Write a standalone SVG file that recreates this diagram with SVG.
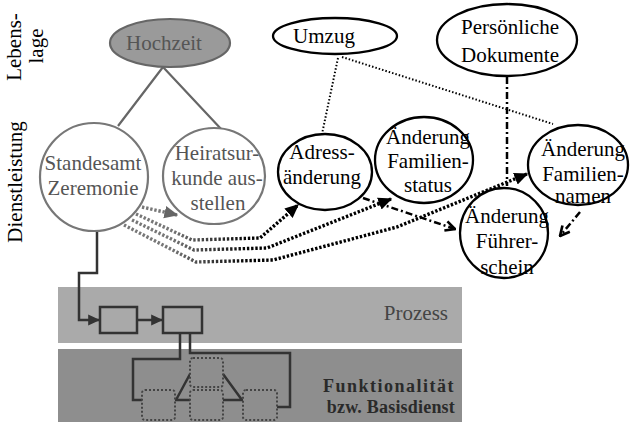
<svg xmlns="http://www.w3.org/2000/svg" width="630" height="424" viewBox="0 0 630 424" font-family="'Liberation Serif', 'DejaVu Serif', serif">
<style>
text{font-size:21px;text-anchor:middle;fill:#000}
.g text,.gt{fill:#555}
.node{fill:#fff;stroke:#000;stroke-width:2.3}
.gnode{fill:#fff;stroke:#777;stroke-width:2.2}
.fine{fill:none;stroke:#000;stroke-width:2;stroke-dasharray:1.5,2}
.dots{fill:none;stroke-width:3.4;stroke-dasharray:2.4,1.8}
.dashdot{fill:none;stroke:#000;stroke-width:2.5;stroke-dasharray:7,3,2,3}
.proc{fill:#a9a9a9;stroke:#333;stroke-width:2.5}
.flow{fill:none;stroke:#333;stroke-width:2.5}
.fbox{fill:#8e8e8e;stroke:#444;stroke-width:2;stroke-dasharray:2,2}
.fl{text-anchor:end;font-weight:bold;font-size:18px;fill:#2a2a2a}
</style>
<defs>
<linearGradient id="gb" gradientUnits="userSpaceOnUse" x1="170" y1="0" x2="250" y2="0">
<stop offset="0" stop-color="#777"/><stop offset="1" stop-color="#000"/>
</linearGradient>
<marker id="af" viewBox="0 0 10 10" refX="9" refY="5" markerWidth="14" markerHeight="14" orient="auto" markerUnits="userSpaceOnUse"><path d="M0,0.5 L10,5 L0,9.5 z" fill="#000"/></marker>
<marker id="afd" viewBox="0 0 10 10" refX="9" refY="5" markerWidth="12" markerHeight="12" orient="auto" markerUnits="userSpaceOnUse"><path d="M0,0.5 L10,5 L0,9.5 z" fill="#333"/></marker>
<marker id="afg" viewBox="0 0 10 10" refX="9" refY="5" markerWidth="14" markerHeight="14" orient="auto" markerUnits="userSpaceOnUse"><path d="M0,0.5 L10,5 L0,9.5 z" fill="#666"/></marker>
<marker id="ao" viewBox="0 0 10 10" refX="9" refY="5" markerWidth="12" markerHeight="12" orient="auto" markerUnits="userSpaceOnUse"><path d="M1,1 L9,5 L1,9" fill="none" stroke="#000" stroke-width="2.2"/></marker>
</defs>

<!-- side labels -->
<g id="labels">
<text transform="translate(21,47) rotate(-90)" font-size="19">Lebens-</text>
<text transform="translate(43,46) rotate(-90)" font-size="19">lage</text>
<text transform="translate(22,182) rotate(-90)" font-size="19">Dienstleistung</text>
</g>

<!-- bands -->
<g id="band-prozess">
<rect x="58" y="287" width="404" height="56" fill="#aaaaaa"/>
<text x="448" y="320" class="gt" style="text-anchor:end;fill:#444">Prozess</text>
</g>
<g id="band-funktion">
<rect x="58" y="349" width="404" height="73" fill="#8e8e8e"/>
<text x="455" y="392" class="fl" letter-spacing="1.5">Funktionalität</text>
<text x="455" y="413" class="fl" letter-spacing="0.2">bzw. Basisdienst</text>
</g>

<!-- connectors -->
<g id="connectors">
<path d="M163,67 L118,126 M163,67 L222,130" fill="none" stroke="#666" stroke-width="2.2"/>
<path class="fine" d="M338,58 L322,134"/>
<path class="fine" d="M342,57 L553,124"/>
<path class="dashdot" d="M507,77 L507,186"/>
<path class="dashdot" d="M363,198 L455,229" marker-end="url(#ao)"/>
<path class="dashdot" d="M580,212 L560,236" marker-end="url(#ao)"/>
<path class="dots" stroke="#777" d="M142,207 L177,215" marker-end="url(#afg)"/>
<path class="dots" stroke="url(#gb)" d="M136,214 L192,240 L260,238 L298,205" marker-end="url(#af)"/>
<path class="dots" stroke="url(#gb)" d="M132,220 L194,250 L267,248 L391,199" marker-end="url(#af)"/>
<path class="dots" stroke="url(#gb)" d="M124,225 L196,262 L273,260 L397,227 L527,174" marker-end="url(#af)"/>
<path class="flow" d="M97,230 L97,273 L79,273 L79,320 L99,320" marker-end="url(#afd)"/>
<path class="flow" d="M137,320 L162,320" marker-end="url(#afd)"/>
<path class="flow" d="M180,333 L180,359 L133,359 L133,400 L142,400"/>
<path class="flow" d="M190,333 L190,353 L290,353 L290,407 L277,407"/>
<path class="flow" d="M175,400 L243,400 M176,400 L190,374 M223,374 L242,400"/>
</g>

<!-- process boxes -->
<g id="p1"><rect class="proc" x="100" y="307" width="37" height="26"/></g>
<g id="p2"><rect class="proc" x="163" y="307" width="39" height="26"/></g>
<g id="f1"><rect class="fbox" x="190" y="358" width="33" height="29" rx="3"/></g>
<g id="f2"><rect class="fbox" x="142" y="390" width="33" height="30" rx="3"/></g>
<g id="f3"><rect class="fbox" x="190" y="390" width="33" height="30" rx="3"/></g>
<g id="f4"><rect class="fbox" x="243" y="390" width="34" height="30" rx="3"/></g>

<!-- nodes -->
<g id="hochzeit" class="g">
<ellipse cx="170" cy="43" rx="60" ry="24" fill="#9a9a9a" stroke="#666" stroke-width="2.2"/>
<text x="164" y="50">Hochzeit</text>
</g>
<g id="standesamt" class="g">
<circle class="gnode" cx="94" cy="177" r="54"/>
<text x="93" y="170">Standesamt</text>
<text x="93" y="195">Zeremonie</text>
</g>
<g id="heiratsurkunde" class="g">
<ellipse class="gnode" cx="214" cy="176" rx="51" ry="48"/>
<text x="217" y="160">Heiratsur-</text>
<text x="217" y="185">kunde aus-</text>
<text x="218" y="210">stellen</text>
</g>
<g id="umzug">
<ellipse class="node" cx="335" cy="36" rx="62" ry="18"/>
<text x="324" y="43">Umzug</text>
</g>
<g id="dokumente">
<ellipse class="node" cx="507" cy="40" rx="70" ry="36"/>
<text x="510" y="34">Persönliche</text>
<text x="510" y="62">Dokumente</text>
</g>
<g id="adresse">
<ellipse class="node" cx="325" cy="172" rx="47" ry="38"/>
<text x="322" y="159">Adress-</text>
<text x="322" y="184">änderung</text>
</g>
<g id="familienstatus">
<ellipse class="node" cx="424" cy="160" rx="49" ry="43"/>
<text x="428" y="144">Änderung</text>
<text x="428" y="168">Familien-</text>
<text x="428" y="192">status</text>
</g>
<g id="familiennamen">
<ellipse class="node" cx="578" cy="165" rx="50" ry="40"/>
<text x="583" y="156">Änderung</text>
<text x="583" y="181">Familien-</text>
<text x="583" y="203">namen</text>
</g>
<g id="fuehrerschein">
<ellipse class="node" cx="504" cy="233" rx="44" ry="45"/>
<text x="507" y="223">Änderung</text>
<text x="507" y="248">Führer-</text>
<text x="507" y="274">schein</text>
</g>
</svg>
